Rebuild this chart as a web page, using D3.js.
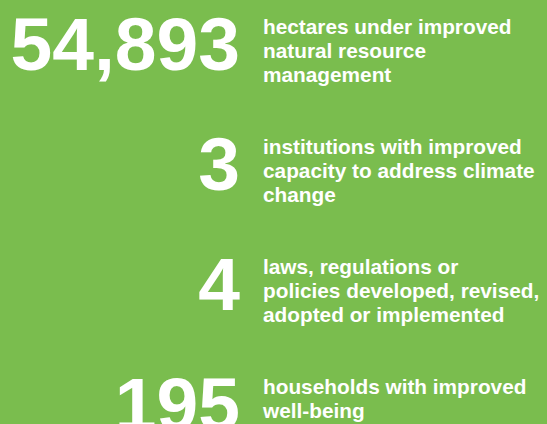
<!DOCTYPE html>
<html>
<head>
<meta charset="utf-8">
<script src="https://cdn.jsdelivr.net/npm/d3@7"></script>
<style>
  html, body { margin: 0; padding: 0; background: #7abd4e; overflow: hidden; }
</style>
</head>
<body>
<script>
var width = 547, height = 424;

// figures and their captions (one entry per line)
var values = [54893, 3, 4, 195];
var captions = [
  ["hectares under improved", "natural resource", "management"],
  ["institutions with improved", "capacity to address climate", "change"],
  ["laws, regulations or", "policies developed, revised,", "adopted or implemented"],
  ["households with improved", "well-being"]
];

var fmt = d3.format(",");

var svg = d3.select("body").append("svg")
    .attr("width", width)
    .attr("height", height)
    .style("display", "block");

svg.append("rect")
    .attr("width", width)
    .attr("height", height)
    .attr("fill", "#7abd4e");

// baseline of each big number
var y = d3.scaleLinear()
    .domain([0, values.length - 1])
    .range([70, 70 + 120 * (values.length - 1)]);

var rows = svg.selectAll(".row")
    .data(values)
  .enter().append("g")
    .attr("class", "row")
    .attr("transform", function(d, i){ return "translate(0," + y(i) + ")"; });

rows.append("text")
    .attr("class", "figure")
    .attr("x", 240)
    .attr("text-anchor", "end")
    .style("font-family", "'Liberation Sans', Arial, Helvetica, sans-serif")
    .style("font-weight", "bold")
    .style("font-size", "75px")
    .style("fill", "#fff")
    .text(function(d){ return fmt(d); });

rows.append("text")
    .attr("class", "caption")
    .attr("x", 263)
    .attr("y", -36)
    .style("font-family", "'Liberation Sans', Arial, Helvetica, sans-serif")
    .style("font-weight", "bold")
    .style("font-size", "20.8px")
    .style("fill", "#fff")
  .selectAll("tspan")
    .data(function(d, i){ return captions[i]; })
  .enter().append("tspan")
    .attr("x", 263)
    .attr("dy", function(d, j){ return j === 0 ? 0 : 24; })
    .text(function(d){ return d; });
</script>
</body>
</html>
